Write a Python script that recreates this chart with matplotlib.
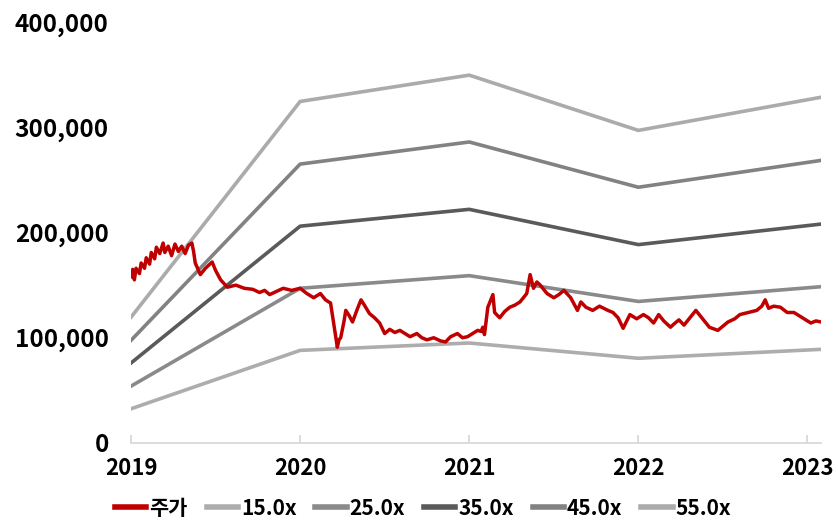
import matplotlib
matplotlib.use("Agg")
import matplotlib.pyplot as plt
from matplotlib.ticker import FuncFormatter

plt.rcParams['font.family'] = ['Noto Sans CJK KR', 'DejaVu Sans']

# PER band anchor dates (fractional years) and values
band_dates = [2019.0, 2020.0, 2021.0, 2022.0, 2023.08]
band_15 = [32500, 88000, 95000, 80500, 89000]
band_25 = [54000, 147000, 159000, 134500, 148500]
band_35 = [76000, 206000, 222000, 188500, 208000]
band_45 = [97500, 265000, 286000, 243000, 268500]
band_55 = [119500, 324500, 349500, 297000, 328500]

# Share price (fractional year, price)
price_dates = [
    2019.00, 2019.01, 2019.02, 2019.03, 2019.05, 2019.06, 2019.08, 2019.09, 2019.11, 2019.12,
    2019.14, 2019.15, 2019.17, 2019.19, 2019.20, 2019.22, 2019.24, 2019.26, 2019.28, 2019.30,
    2019.32, 2019.34, 2019.36, 2019.37, 2019.38, 2019.41, 2019.44, 2019.48, 2019.50, 2019.53,
    2019.57, 2019.62, 2019.67, 2019.72, 2019.76, 2019.79, 2019.82, 2019.86, 2019.90, 2019.95,
    2020.00, 2020.04, 2020.08, 2020.12, 2020.15, 2020.18, 2020.20, 2020.22, 2020.23, 2020.24,
    2020.26, 2020.27, 2020.29, 2020.31, 2020.34, 2020.36, 2020.38, 2020.41, 2020.44, 2020.47,
    2020.50, 2020.53, 2020.56, 2020.59, 2020.62, 2020.65, 2020.69, 2020.72, 2020.75, 2020.79,
    2020.83, 2020.86, 2020.89, 2020.93, 2020.96, 2020.99, 2021.02, 2021.05, 2021.07, 2021.08,
    2021.09, 2021.11, 2021.14, 2021.15, 2021.18, 2021.21, 2021.24, 2021.27, 2021.30, 2021.32,
    2021.34, 2021.36, 2021.38, 2021.40, 2021.42, 2021.44, 2021.46, 2021.48, 2021.50, 2021.53,
    2021.56, 2021.60, 2021.64, 2021.66, 2021.69, 2021.73, 2021.77, 2021.82, 2021.85, 2021.88,
    2021.91, 2021.95, 2021.99, 2022.03, 2022.06, 2022.09, 2022.12, 2022.15, 2022.19, 2022.21,
    2022.24, 2022.27, 2022.31, 2022.34, 2022.38, 2022.42, 2022.47, 2022.50, 2022.53, 2022.57,
    2022.60, 2022.65, 2022.70, 2022.73, 2022.75, 2022.77, 2022.80, 2022.84, 2022.88, 2022.92,
    2022.96, 2022.99, 2023.02, 2023.05, 2023.08,
]
price = [
    158000, 165000, 155000, 166000, 161000, 171000, 166000, 176000, 170000, 181000,
    175000, 186000, 180000, 190000, 181000, 187000, 178000, 189000, 182000, 187000,
    180000, 188000, 190000, 182000, 171000, 160000, 166000, 172000, 164000, 155000,
    148000, 150000, 147000, 146000, 143000, 145000, 141000, 144000, 147000, 145000,
    147000, 142000, 138000, 142000, 136000, 133000, 112000, 91000, 98000, 100000,
    116000, 126000, 121000, 115000, 128000, 136000, 131000, 123000, 119000, 114000,
    104000, 108000, 105000, 107000, 104000, 101000, 104000, 100000, 98000, 100000,
    97000, 96000, 101000, 104000, 100000, 101000, 104000, 107000, 106000, 110000,
    103000, 129000, 141000, 124000, 119000, 125000, 129000, 131000, 134000, 138000,
    142000, 160000, 147000, 153000, 150000, 146000, 142000, 140000, 138000, 141000,
    145000, 138000, 126000, 134000, 129000, 126000, 130000, 126000, 124000, 119000,
    109000, 122000, 118000, 122000, 119000, 114000, 122000, 116000, 110000, 113000,
    117000, 112000, 120000, 126000, 118000, 110000, 107000, 111000, 115000, 118000,
    122000, 124000, 126000, 130000, 136000, 128000, 130000, 129000, 124000, 124000,
    120000, 117000, 114000, 116000, 115000,
]

years = [2019, 2020, 2021, 2022, 2023]
y_ticks = [0, 100000, 200000, 300000, 400000]

labels = ['주가', '15.0x', '25.0x', '35.0x', '45.0x', '55.0x']
band_colors = ['#adadad', '#8a8a8a', '#5a5a5a', '#828282', '#ababab']

fig = plt.figure(figsize=(8.38, 5.32), dpi=100)
ax = fig.add_axes([131 / 838, 1 - 443 / 532, (821 - 131) / 838, (443 - 22) / 532])

ax.plot(price_dates, price, color='#c00000', lw=2.5, label=labels[0], zorder=5)
for vals, lab, col in zip([band_15, band_25, band_35, band_45, band_55], labels[1:], band_colors):
    ax.plot(band_dates, vals, color=col, lw=2.6, label=lab)

ax.set_xlim(2019, 2023.08)
ax.set_ylim(0, 400000)
ax.set_xticks(years)
ax.set_xticklabels([str(y) for y in years])
ax.set_yticks(y_ticks)
ax.yaxis.set_major_formatter(FuncFormatter(lambda v, p: f"{int(v):,}"))

for s in ['top', 'right', 'left']:
    ax.spines[s].set_visible(False)
ax.spines['bottom'].set_color('#d9d9d9')
ax.spines['bottom'].set_linewidth(1.3)
ax.tick_params(axis='x', direction='in', length=6, color='#d9d9d9', width=1.3, pad=10,
               labelsize=16)
ax.tick_params(axis='y', length=0, pad=16, labelsize=17.5)
for t in ax.get_xticklabels() + ax.get_yticklabels():
    t.set_fontweight('bold')

leg = fig.legend(loc='lower center', bbox_to_anchor=(0.505, -0.01), ncol=6, frameon=False,
                 handlelength=1.5, handletextpad=0.15, columnspacing=0.9,
                 prop={'size': 15, 'weight': 'bold'})
for h in leg.get_lines():
    h.set_linewidth(4)

fig.savefig('out.png', dpi=100)
